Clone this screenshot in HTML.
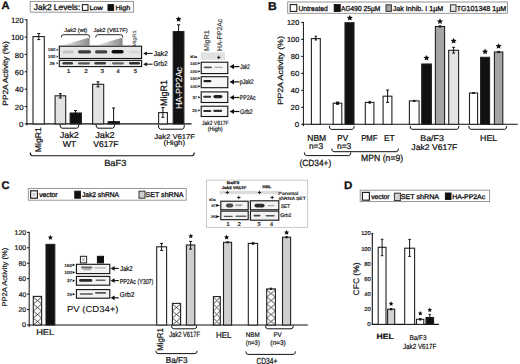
<!DOCTYPE html><html><head><meta charset="utf-8"><title>Figure</title><style>html,body{margin:0;padding:0;background:#fff;width:520px;height:364px;overflow:hidden}svg text{font-family:"Liberation Sans",sans-serif;text-rendering:geometricPrecision}</style></head><body><svg width="520" height="364" viewBox="0 0 520 364" style="display:block;font-family:&quot;Liberation Sans&quot;,sans-serif;text-rendering:geometricPrecision"><defs><filter id="bl" x="-30%" y="-100%" width="160%" height="300%"><feGaussianBlur stdDeviation="0.55"/></filter><linearGradient id="wedge" x1="0" x2="1" y1="0" y2="0"><stop offset="0" stop-color="#f4f4f4"/><stop offset="1" stop-color="#8a8a8a"/></linearGradient><pattern id="h1" patternUnits="userSpaceOnUse" x="32.4" y="192.8" width="3" height="3.6"><path d="M0 0L3 3.6M3 0L0 3.6" stroke="#555" stroke-width="0.5"/></pattern><pattern id="h2" patternUnits="userSpaceOnUse" x="33.3" y="325" width="8.3" height="7"><path d="M0 0L8.3 7M8.3 0L0 7" stroke="#333" stroke-width="0.85"/></pattern><pattern id="h3" patternUnits="userSpaceOnUse" x="172.4" y="325" width="8.2" height="7"><path d="M0 0L8.2 7M8.2 0L0 7" stroke="#333" stroke-width="0.85"/></pattern><pattern id="h4" patternUnits="userSpaceOnUse" x="213.4" y="325" width="6.9" height="7"><path d="M0 0L6.9 7M6.9 0L0 7" stroke="#333" stroke-width="0.85"/></pattern><pattern id="h5" patternUnits="userSpaceOnUse" x="266.7" y="325" width="8.7" height="7"><path d="M0 0L8.7 7M8.7 0L0 7" stroke="#333" stroke-width="0.85"/></pattern><pattern id="h6" patternUnits="userSpaceOnUse" x="82" y="257.9" width="3" height="3.4"><path d="M0 0L3 3.4M3 0L0 3.4" stroke="#555" stroke-width="0.5"/></pattern></defs><rect width="520" height="364" fill="#fff"/><text x="1.62" y="9.4" font-size="10.8" textLength="8.08" lengthAdjust="spacingAndGlyphs" font-weight="bold" fill="#111" stroke="#111" stroke-width="0.3">A</text>
<rect x="30.2" y="1.4" width="103.2" height="10.8" fill="#fff" stroke="#8a8a8a" stroke-width="0.9"/>
<text x="33.87" y="9.6" font-size="8.3" textLength="46.51" lengthAdjust="spacingAndGlyphs" fill="#111" stroke="#111" stroke-width="0.3">Jak2 Levels:</text>
<rect x="82.4" y="4.6" width="5.6" height="5.8" fill="#fff" stroke="#222" stroke-width="1.1"/>
<text x="89.42" y="9.5" font-size="6.4" textLength="13.38" lengthAdjust="spacingAndGlyphs" fill="#111" stroke="#111" stroke-width="0.3">Low</text>
<rect x="108" y="4.6" width="5.6" height="5.8" fill="#111" stroke="#111" stroke-width="1"/>
<text x="115.43" y="9.5" font-size="6.5" textLength="14.75" lengthAdjust="spacingAndGlyphs" fill="#111" stroke="#111" stroke-width="0.3">High</text>
<line x1="26.9" y1="19.24" x2="26.9" y2="125.4" stroke="#111" stroke-width="1"/>
<line x1="24.7" y1="123.9" x2="26.9" y2="123.9" stroke="#111" stroke-width="1"/>
<text x="19.08" y="127" font-size="7.5" textLength="4.4" lengthAdjust="spacingAndGlyphs" fill="#111" stroke="#111" stroke-width="0.21">0</text>
<line x1="24.7" y1="106.54" x2="26.9" y2="106.54" stroke="#111" stroke-width="1"/>
<text x="14.81" y="109.64" font-size="7.5" textLength="8.68" lengthAdjust="spacingAndGlyphs" fill="#111" stroke="#111" stroke-width="0.21">20</text>
<line x1="24.7" y1="89.18" x2="26.9" y2="89.18" stroke="#111" stroke-width="1"/>
<text x="15.05" y="92.28" font-size="7.5" textLength="8.43" lengthAdjust="spacingAndGlyphs" fill="#111" stroke="#111" stroke-width="0.21">40</text>
<line x1="24.7" y1="71.82" x2="26.9" y2="71.82" stroke="#111" stroke-width="1"/>
<text x="14.81" y="74.92" font-size="7.5" textLength="8.68" lengthAdjust="spacingAndGlyphs" fill="#111" stroke="#111" stroke-width="0.21">60</text>
<line x1="24.7" y1="54.46" x2="26.9" y2="54.46" stroke="#111" stroke-width="1"/>
<text x="14.85" y="57.56" font-size="7.5" textLength="8.64" lengthAdjust="spacingAndGlyphs" fill="#111" stroke="#111" stroke-width="0.21">80</text>
<line x1="24.7" y1="37.1" x2="26.9" y2="37.1" stroke="#111" stroke-width="1"/>
<text x="11.25" y="40.2" font-size="7.5" textLength="12.23" lengthAdjust="spacingAndGlyphs" fill="#111" stroke="#111" stroke-width="0.21">100</text>
<line x1="24.7" y1="19.74" x2="26.9" y2="19.74" stroke="#111" stroke-width="1"/>
<text x="11.25" y="22.84" font-size="7.5" textLength="12.23" lengthAdjust="spacingAndGlyphs" fill="#111" stroke="#111" stroke-width="0.21">120</text>
<text transform="translate(7.6,105.67) rotate(-90)" x="0" y="0" font-size="7.6" textLength="64.41" lengthAdjust="spacingAndGlyphs" fill="#111" stroke="#111" stroke-width="0.21">PP2A Activity (%)</text>
<line x1="26.4" y1="123.9" x2="191.6" y2="123.9" stroke="#111" stroke-width="1.1"/>
<rect x="33" y="36.6" width="11.3" height="87.3" fill="#fff"/>
<rect x="33" y="36.6" width="11.3" height="87.3" fill="none" stroke="#222" stroke-width="1.1"/>
<line x1="38.8" y1="33.5" x2="38.8" y2="39.6" stroke="#111" stroke-width="1"/>
<line x1="37.3" y1="33.5" x2="40.3" y2="33.5" stroke="#111" stroke-width="1"/>
<line x1="37.3" y1="39.6" x2="40.3" y2="39.6" stroke="#111" stroke-width="1"/>
<rect x="55.1" y="95.8" width="10.6" height="28.1" fill="#e2e2e2"/>
<rect x="55.1" y="95.8" width="10.6" height="28.1" fill="none" stroke="#222" stroke-width="1.1"/>
<line x1="60.3" y1="93.7" x2="60.3" y2="98" stroke="#111" stroke-width="1"/>
<line x1="58.8" y1="93.7" x2="61.8" y2="93.7" stroke="#111" stroke-width="1"/>
<line x1="58.8" y1="98" x2="61.8" y2="98" stroke="#111" stroke-width="1"/>
<rect x="70.1" y="113" width="11.3" height="10.9" fill="#111"/>
<rect x="70.1" y="113" width="11.3" height="10.9" fill="none" stroke="#222" stroke-width="1.1"/>
<line x1="75.5" y1="110.6" x2="75.5" y2="114.5" stroke="#111" stroke-width="1"/>
<line x1="74" y1="110.6" x2="77" y2="110.6" stroke="#111" stroke-width="1"/>
<line x1="74" y1="114.5" x2="77" y2="114.5" stroke="#111" stroke-width="1"/>
<rect x="92.6" y="84.3" width="11.1" height="39.6" fill="#e2e2e2"/>
<rect x="92.6" y="84.3" width="11.1" height="39.6" fill="none" stroke="#222" stroke-width="1.1"/>
<line x1="98" y1="81.8" x2="98" y2="86.8" stroke="#111" stroke-width="1"/>
<line x1="96.5" y1="81.8" x2="99.5" y2="81.8" stroke="#111" stroke-width="1"/>
<line x1="96.5" y1="86.8" x2="99.5" y2="86.8" stroke="#111" stroke-width="1"/>
<rect x="108.1" y="121.7" width="11.3" height="2.2" fill="#111"/>
<rect x="108.1" y="121.7" width="11.3" height="2.2" fill="none" stroke="#222" stroke-width="1.1"/>
<line x1="113.6" y1="108" x2="113.6" y2="122" stroke="#111" stroke-width="1"/>
<line x1="112.1" y1="108" x2="115.1" y2="108" stroke="#111" stroke-width="1"/>
<line x1="112.1" y1="122" x2="115.1" y2="122" stroke="#111" stroke-width="1"/>
<rect x="158.6" y="112.6" width="8.8" height="11.3" fill="#fff"/>
<rect x="158.6" y="112.6" width="8.8" height="11.3" fill="none" stroke="#222" stroke-width="1.1"/>
<line x1="162.9" y1="107.6" x2="162.9" y2="117.3" stroke="#111" stroke-width="1"/>
<line x1="161.4" y1="107.6" x2="164.4" y2="107.6" stroke="#111" stroke-width="1"/>
<line x1="161.4" y1="117.3" x2="164.4" y2="117.3" stroke="#111" stroke-width="1"/>
<rect x="173.2" y="31.6" width="10.7" height="92.3" fill="#111"/>
<rect x="173.2" y="31.6" width="10.7" height="92.3" fill="none" stroke="#222" stroke-width="1.1"/>
<line x1="178.6" y1="24.8" x2="178.6" y2="31.6" stroke="#111" stroke-width="1"/>
<line x1="177" y1="24.8" x2="180.2" y2="24.8" stroke="#111" stroke-width="1"/>
<line x1="177" y1="31.6" x2="180.2" y2="31.6" stroke="#111" stroke-width="1"/>
<polygon points="178.6,16.2 179.48,17.99 181.45,18.27 180.03,19.66 180.36,21.63 178.6,20.7 176.84,21.63 177.17,19.66 175.75,18.27 177.72,17.99" fill="#111"/>
<text transform="translate(182.3,109.11) rotate(-90)" x="0" y="0" font-size="9" textLength="42.12" lengthAdjust="spacingAndGlyphs" fill="#fff" stroke="#fff" stroke-width="0.05">HA-PP2Ac</text>
<text transform="translate(167.2,105.91) rotate(-90)" x="0" y="0" font-size="9.4" textLength="25.81" lengthAdjust="spacingAndGlyphs" fill="#111" stroke="#111" stroke-width="0.26">MigR1</text>
<path d="M60 124.5Q60 128.2 62 128.2L76.9 128.2Q78.9 128.2 78.9 124.5" stroke="#111" stroke-width="1" fill="none"/>
<path d="M96 124.5Q96 128.2 98 128.2L112.6 128.2Q114.6 128.2 114.6 124.5" stroke="#111" stroke-width="1" fill="none"/>
<path d="M158.4 125.1Q158.4 129.2 160.4 129.2L182.4 129.2Q184.4 129.2 184.4 125.1" stroke="#111" stroke-width="1" fill="none"/>
<path d="M30.2 152.6Q30.2 155.8 32.4 155.8L192.2 155.8Q194.2 155.8 194.2 152.6" stroke="#111" stroke-width="1.1" fill="none"/>
<text transform="translate(41,152.19) rotate(-90)" x="0" y="0" font-size="8.3" textLength="24.87" lengthAdjust="spacingAndGlyphs" fill="#111" stroke="#111" stroke-width="0.23">MigR1</text>
<text x="59.76" y="138" font-size="8.5" textLength="19.11" lengthAdjust="spacingAndGlyphs" fill="#111" stroke="#111" stroke-width="0.24">Jak2</text>
<text x="62.66" y="147.3" font-size="8.5" textLength="13.51" lengthAdjust="spacingAndGlyphs" fill="#111" stroke="#111" stroke-width="0.24">WT</text>
<text x="95.26" y="138" font-size="8.5" textLength="19.42" lengthAdjust="spacingAndGlyphs" fill="#111" stroke="#111" stroke-width="0.24">Jak2</text>
<text x="93.36" y="147.3" font-size="8.5" textLength="25.2" lengthAdjust="spacingAndGlyphs" fill="#111" stroke="#111" stroke-width="0.24">V617F</text>
<text x="154.29" y="139.3" font-size="7" textLength="40.63" lengthAdjust="spacingAndGlyphs" fill="#111" stroke="#111" stroke-width="0.19">Jak2 V617F</text>
<text x="163.52" y="145.3" font-size="7" textLength="21.57" lengthAdjust="spacingAndGlyphs" fill="#111" stroke="#111" stroke-width="0.19">(High)</text>
<text x="104.16" y="166.4" font-size="8.8" textLength="22.22" lengthAdjust="spacingAndGlyphs" fill="#111" stroke="#111" stroke-width="0.24">BaF3</text>
<text x="64.21" y="31.6" font-size="5.6" textLength="23.03" lengthAdjust="spacingAndGlyphs" fill="#111" stroke="#111" stroke-width="0.18">Jak2 (wt)</text>
<text x="93.41" y="31.6" font-size="5.6" textLength="34.14" lengthAdjust="spacingAndGlyphs" fill="#111" stroke="#111" stroke-width="0.18">Jak2 (V617F)</text>
<path d="M61.3 37.4Q61.3 34.7 63.3 34.7L87.7 34.7Q89.7 34.7 89.7 37.4" stroke="#111" stroke-width="0.9" fill="none"/>
<path d="M95.7 37.4Q95.7 34.7 97.7 34.7L120.8 34.7Q122.8 34.7 122.8 37.4" stroke="#111" stroke-width="0.9" fill="none"/>
<polygon points="61.6,45.6 89.6,37.6 89.6,45.6" fill="url(#wedge)"/>
<polygon points="95.7,45.6 122.6,37.6 122.6,45.6" fill="url(#wedge)"/>
<text transform="translate(135.8,46.75) rotate(-90)" x="0" y="0" font-size="4.8" textLength="16.41" lengthAdjust="spacingAndGlyphs" fill="#666" stroke="#666" stroke-width="0.18">MigR1</text>
<rect x="59.3" y="46.2" width="82.3" height="12.3" fill="#e6e6e6" stroke="#111" stroke-width="1.1"/>
<rect x="62.5" y="50.4" width="11.5" height="3.2" rx="1.6" fill="#c4c4c4" filter="url(#bl)"/>
<rect x="78" y="50.2" width="13" height="3.2" rx="1.6" fill="#3a3a3a" filter="url(#bl)"/>
<rect x="95" y="50.2" width="12.4" height="3.2" rx="1.6" fill="#444" filter="url(#bl)"/>
<rect x="111.5" y="50" width="12.2" height="3.6" rx="1.8" fill="#111" filter="url(#bl)"/>
<rect x="128.6" y="50.5" width="12.4" height="3" rx="1.5" fill="#d8d8d8" filter="url(#bl)"/>
<rect x="59.3" y="60.4" width="82.3" height="6.2" fill="#e8e8e8" stroke="#111" stroke-width="1.1"/>
<rect x="62.4" y="62.1" width="10.6" height="2.4" rx="1.2" fill="#3a3a3a" filter="url(#bl)"/>
<rect x="78" y="62.2" width="12" height="2.2" rx="1.1" fill="#555" filter="url(#bl)"/>
<rect x="94.4" y="62.1" width="11.6" height="2.4" rx="1.2" fill="#3a3a3a" filter="url(#bl)"/>
<rect x="112" y="62.2" width="12" height="2.2" rx="1.1" fill="#666" filter="url(#bl)"/>
<rect x="129" y="62.1" width="11" height="2.4" rx="1.2" fill="#333" filter="url(#bl)"/>
<text x="47.66" y="51.2" font-size="4.4" textLength="7.51" lengthAdjust="spacingAndGlyphs" fill="#111" stroke="#111" stroke-width="0.18">150</text>
<polygon points="58.2,49.7 56.64,48.5 56.64,50.9" fill="#111"/>
<text x="47.66" y="58.2" font-size="4.4" textLength="7.51" lengthAdjust="spacingAndGlyphs" fill="#111" stroke="#111" stroke-width="0.18">100</text>
<polygon points="58.2,56.6 56.64,55.4 56.64,57.8" fill="#111"/>
<text x="49.46" y="65.2" font-size="4.4" textLength="5.34" lengthAdjust="spacingAndGlyphs" fill="#111" stroke="#111" stroke-width="0.18">25</text>
<polygon points="58.2,63.2 56.64,62 56.64,64.4" fill="#111"/>
<text x="66.85" y="72.8" font-size="5.6" textLength="3.71" lengthAdjust="spacingAndGlyphs" fill="#111" stroke="#111" stroke-width="0.18">1</text>
<text x="84.33" y="72.8" font-size="5.6" textLength="3.54" lengthAdjust="spacingAndGlyphs" fill="#111" stroke="#111" stroke-width="0.18">2</text>
<text x="100.51" y="72.8" font-size="5.6" textLength="3.4" lengthAdjust="spacingAndGlyphs" fill="#111" stroke="#111" stroke-width="0.18">3</text>
<text x="116.54" y="72.8" font-size="5.6" textLength="3.19" lengthAdjust="spacingAndGlyphs" fill="#111" stroke="#111" stroke-width="0.18">4</text>
<text x="133.71" y="72.8" font-size="5.6" textLength="3.4" lengthAdjust="spacingAndGlyphs" fill="#111" stroke="#111" stroke-width="0.18">5</text>
<line x1="146.08" y1="53.4" x2="152.6" y2="53.4" stroke="#111" stroke-width="1"/>
<polygon points="143.2,53.4 146.8,51.4 146.8,55.4" fill="#111"/>
<text x="153.7" y="55.7" font-size="7" textLength="14.36" lengthAdjust="spacingAndGlyphs" fill="#111" stroke="#111" stroke-width="0.19">Jak2</text>
<line x1="146.08" y1="64.2" x2="152.6" y2="64.2" stroke="#111" stroke-width="1"/>
<polygon points="143.2,64.2 146.8,62.2 146.8,66.2" fill="#111"/>
<text x="153.49" y="66.4" font-size="7" textLength="13.95" lengthAdjust="spacingAndGlyphs" fill="#111" stroke="#111" stroke-width="0.19">Grb2</text>
<text transform="translate(209.4,50.97) rotate(-90)" x="0" y="0" font-size="7" textLength="20.69" lengthAdjust="spacingAndGlyphs" fill="#444" stroke="#444" stroke-width="0.19">MigR1</text>
<text transform="translate(221.8,50.94) rotate(-90)" x="0" y="0" font-size="7" textLength="32.1" lengthAdjust="spacingAndGlyphs" fill="#444" stroke="#444" stroke-width="0.19">HA-PP2Ac</text>
<rect x="200.6" y="52.4" width="24.4" height="7.6" fill="#e2e2e2"/>
<line x1="217.05" y1="57.4" x2="220.45" y2="57.4" stroke="#111" stroke-width="0.9"/>
<line x1="218.75" y1="55.7" x2="218.75" y2="59.1" stroke="#111" stroke-width="0.9"/>
<text x="190.15" y="58.2" font-size="3.6" textLength="6.86" lengthAdjust="spacingAndGlyphs" fill="#111" stroke="#111" stroke-width="0.18">kDa</text>
<rect x="201.2" y="62.2" width="26.6" height="11.4" fill="#f7f7f7" stroke="#111" stroke-width="1.1"/>
<rect x="201.2" y="76.7" width="26.6" height="11" fill="#f7f7f7" stroke="#111" stroke-width="1.1"/>
<rect x="201.2" y="91.9" width="26.6" height="10.6" fill="#f7f7f7" stroke="#111" stroke-width="1.1"/>
<rect x="201.2" y="106.2" width="26.6" height="10.3" fill="#f7f7f7" stroke="#111" stroke-width="1.1"/>
<text x="190.07" y="64.7" font-size="4" textLength="7.4" lengthAdjust="spacingAndGlyphs" fill="#111" stroke="#111" stroke-width="0.18">150</text>
<polygon points="200.4,63.3 198.24,62.1 198.24,64.5" fill="#111"/>
<text x="190.07" y="72.8" font-size="4" textLength="7.4" lengthAdjust="spacingAndGlyphs" fill="#111" stroke="#111" stroke-width="0.18">100</text>
<polygon points="200.4,71.4 198.24,70.2 198.24,72.6" fill="#111"/>
<text x="190.07" y="79.6" font-size="4" textLength="7.4" lengthAdjust="spacingAndGlyphs" fill="#111" stroke="#111" stroke-width="0.18">150</text>
<polygon points="200.4,78.2 198.24,77 198.24,79.4" fill="#111"/>
<text x="190.07" y="87.7" font-size="4" textLength="7.4" lengthAdjust="spacingAndGlyphs" fill="#111" stroke="#111" stroke-width="0.18">100</text>
<polygon points="200.4,86.3 198.24,85.1 198.24,87.5" fill="#111"/>
<text x="192.43" y="98.6" font-size="4" textLength="4.8" lengthAdjust="spacingAndGlyphs" fill="#111" stroke="#111" stroke-width="0.18">37</text>
<polygon points="200.4,97.2 198.24,96 198.24,98.4" fill="#111"/>
<text x="192.38" y="111.8" font-size="4" textLength="4.8" lengthAdjust="spacingAndGlyphs" fill="#111" stroke="#111" stroke-width="0.18">25</text>
<polygon points="200.4,110.4 198.24,109.2 198.24,111.6" fill="#111"/>
<rect x="203.8" y="66.6" width="8.2" height="1.6" rx="0.8" fill="#555" filter="url(#bl)"/>
<rect x="214.4" y="66.7" width="8.6" height="1.4" rx="0.7" fill="#aaa" filter="url(#bl)"/>
<rect x="203.4" y="80.1" width="8" height="2.2" rx="1.1" fill="#222" filter="url(#bl)"/>
<rect x="203.2" y="95.8" width="8" height="2" rx="1" fill="#333" filter="url(#bl)"/>
<rect x="213.4" y="94.9" width="9" height="3.4" rx="1.7" fill="#222" filter="url(#bl)"/>
<rect x="203.2" y="110" width="8.2" height="2" rx="1" fill="#333" filter="url(#bl)"/>
<rect x="213.2" y="109.7" width="9" height="2.2" rx="1.1" fill="#333" filter="url(#bl)"/>
<line x1="233.12" y1="66.6" x2="239.4" y2="66.6" stroke="#111" stroke-width="1.2"/>
<polygon points="229.6,66.6 234,64 234,69.2" fill="#111"/>
<text x="240.13" y="69.1" font-size="6.8" textLength="9.81" lengthAdjust="spacingAndGlyphs" fill="#111" stroke="#111" stroke-width="0.19">Jak2</text>
<line x1="233.12" y1="81.9" x2="239.4" y2="81.9" stroke="#111" stroke-width="1.2"/>
<polygon points="229.6,81.9 234,79.3 234,84.5" fill="#111"/>
<text x="239.86" y="84.4" font-size="6.8" textLength="13.81" lengthAdjust="spacingAndGlyphs" fill="#111" stroke="#111" stroke-width="0.19">pJak2</text>
<line x1="233.12" y1="97.5" x2="239.4" y2="97.5" stroke="#111" stroke-width="1.2"/>
<polygon points="229.6,97.5 234,94.9 234,100.1" fill="#111"/>
<text x="239.79" y="100" font-size="6.8" textLength="15.86" lengthAdjust="spacingAndGlyphs" fill="#111" stroke="#111" stroke-width="0.19">PP2Ac</text>
<line x1="233.12" y1="111.5" x2="239.4" y2="111.5" stroke="#111" stroke-width="1.2"/>
<polygon points="229.6,111.5 234,108.9 234,114.1" fill="#111"/>
<text x="239.91" y="114" font-size="6.8" textLength="12.9" lengthAdjust="spacingAndGlyphs" fill="#111" stroke="#111" stroke-width="0.19">Grb2</text>
<text x="201.93" y="125.2" font-size="6.2" textLength="26.58" lengthAdjust="spacingAndGlyphs" fill="#111" stroke="#111" stroke-width="0.18">Jak2 V617F</text>
<text x="207.67" y="131" font-size="6.2" textLength="14.87" lengthAdjust="spacingAndGlyphs" fill="#111" stroke="#111" stroke-width="0.18">(High)</text>
<text x="268.01" y="9.6" font-size="11.3" textLength="8.76" lengthAdjust="spacingAndGlyphs" font-weight="bold" fill="#111" stroke="#111" stroke-width="0.31">B</text>
<rect x="287.7" y="2" width="219.7" height="11.3" fill="#fff" stroke="#8a8a8a" stroke-width="0.9"/>
<rect x="290.2" y="4.6" width="6.6" height="6.8" fill="#fff" stroke="#222" stroke-width="1.1"/>
<text x="298.4" y="10.8" font-size="7.2" textLength="29.45" lengthAdjust="spacingAndGlyphs" fill="#111" stroke="#111" stroke-width="0.3">Untreated</text>
<rect x="334.2" y="4.6" width="6" height="6.8" fill="#111" stroke="#111" stroke-width="1"/>
<text x="341" y="10.9" font-size="7.2" textLength="39.25" lengthAdjust="spacingAndGlyphs" fill="#111" stroke="#111" stroke-width="0.3">AG490 25µM</text>
<rect x="386" y="4.8" width="5.4" height="6.6" fill="#a4a4a4" stroke="#333" stroke-width="1"/>
<text x="392.69" y="10.9" font-size="7.2" textLength="50.51" lengthAdjust="spacingAndGlyphs" fill="#111" stroke="#111" stroke-width="0.3">Jak Inhib. I 1µM</text>
<rect x="450.4" y="4.8" width="5.6" height="6.6" fill="#e4e4e4" stroke="#333" stroke-width="1"/>
<text x="456.66" y="10.9" font-size="7.2" textLength="49.54" lengthAdjust="spacingAndGlyphs" fill="#111" stroke="#111" stroke-width="0.3">TG101348 1µM</text>
<line x1="303.4" y1="21.92" x2="303.4" y2="126.1" stroke="#111" stroke-width="1"/>
<line x1="301.2" y1="124.3" x2="303.4" y2="124.3" stroke="#111" stroke-width="1"/>
<text x="294.88" y="126.93" font-size="7.3" textLength="4.4" lengthAdjust="spacingAndGlyphs" fill="#111" stroke="#111" stroke-width="0.2">0</text>
<line x1="301.2" y1="107.32" x2="303.4" y2="107.32" stroke="#111" stroke-width="1"/>
<text x="290.61" y="109.95" font-size="7.3" textLength="8.68" lengthAdjust="spacingAndGlyphs" fill="#111" stroke="#111" stroke-width="0.2">20</text>
<line x1="301.2" y1="90.34" x2="303.4" y2="90.34" stroke="#111" stroke-width="1"/>
<text x="290.85" y="92.97" font-size="7.3" textLength="8.43" lengthAdjust="spacingAndGlyphs" fill="#111" stroke="#111" stroke-width="0.2">40</text>
<line x1="301.2" y1="73.36" x2="303.4" y2="73.36" stroke="#111" stroke-width="1"/>
<text x="290.61" y="75.99" font-size="7.3" textLength="8.68" lengthAdjust="spacingAndGlyphs" fill="#111" stroke="#111" stroke-width="0.2">60</text>
<line x1="301.2" y1="56.38" x2="303.4" y2="56.38" stroke="#111" stroke-width="1"/>
<text x="290.65" y="59.01" font-size="7.3" textLength="8.64" lengthAdjust="spacingAndGlyphs" fill="#111" stroke="#111" stroke-width="0.2">80</text>
<line x1="301.2" y1="39.4" x2="303.4" y2="39.4" stroke="#111" stroke-width="1"/>
<text x="287.05" y="42.03" font-size="7.3" textLength="12.23" lengthAdjust="spacingAndGlyphs" fill="#111" stroke="#111" stroke-width="0.2">100</text>
<line x1="301.2" y1="22.42" x2="303.4" y2="22.42" stroke="#111" stroke-width="1"/>
<text x="287.05" y="25.05" font-size="7.3" textLength="12.23" lengthAdjust="spacingAndGlyphs" fill="#111" stroke="#111" stroke-width="0.2">120</text>
<text transform="translate(283.2,104.71) rotate(-90)" x="0" y="0" font-size="7.6" textLength="68.69" lengthAdjust="spacingAndGlyphs" fill="#111" stroke="#111" stroke-width="0.21">PP2A Activity (%)</text>
<line x1="302.9" y1="124.3" x2="517.8" y2="124.3" stroke="#111" stroke-width="1.1"/>
<rect x="311.4" y="38.6" width="8.9" height="85.7" fill="#fff"/>
<rect x="311.4" y="38.6" width="8.9" height="85.7" fill="none" stroke="#222" stroke-width="1.1"/>
<line x1="315.8" y1="36.2" x2="315.8" y2="40" stroke="#111" stroke-width="1"/>
<line x1="314.6" y1="36.2" x2="317" y2="36.2" stroke="#111" stroke-width="1"/>
<line x1="314.6" y1="40" x2="317" y2="40" stroke="#111" stroke-width="1"/>
<rect x="333.2" y="103.2" width="8.6" height="21.1" fill="#fff"/>
<rect x="333.2" y="103.2" width="8.6" height="21.1" fill="none" stroke="#222" stroke-width="1.1"/>
<line x1="337.5" y1="102.4" x2="337.5" y2="104" stroke="#111" stroke-width="1.6"/>
<line x1="335.9" y1="102.4" x2="339.1" y2="102.4" stroke="#111" stroke-width="1.6"/>
<line x1="335.9" y1="104" x2="339.1" y2="104" stroke="#111" stroke-width="1.6"/>
<rect x="345" y="22.7" width="9" height="101.6" fill="#111"/>
<rect x="345" y="22.7" width="9" height="101.6" fill="none" stroke="#222" stroke-width="1.1"/>
<polygon points="349.8,14.9 350.71,16.75 352.75,17.04 351.27,18.48 351.62,20.51 349.8,19.55 347.98,20.51 348.33,18.48 346.85,17.04 348.89,16.75" fill="#111"/>
<rect x="365.3" y="102.4" width="8.6" height="21.9" fill="#fff"/>
<rect x="365.3" y="102.4" width="8.6" height="21.9" fill="none" stroke="#222" stroke-width="1.1"/>
<line x1="369.7" y1="101.4" x2="369.7" y2="103.2" stroke="#111" stroke-width="1"/>
<line x1="368.5" y1="101.4" x2="370.9" y2="101.4" stroke="#111" stroke-width="1"/>
<line x1="368.5" y1="103.2" x2="370.9" y2="103.2" stroke="#111" stroke-width="1"/>
<rect x="383.1" y="96.2" width="8.8" height="28.1" fill="#fff"/>
<rect x="383.1" y="96.2" width="8.8" height="28.1" fill="none" stroke="#222" stroke-width="1.1"/>
<line x1="387.6" y1="90" x2="387.6" y2="102.4" stroke="#111" stroke-width="1"/>
<line x1="386.1" y1="90" x2="389.1" y2="90" stroke="#111" stroke-width="1"/>
<line x1="386.1" y1="102.4" x2="389.1" y2="102.4" stroke="#111" stroke-width="1"/>
<rect x="409.4" y="100.9" width="9.7" height="23.4" fill="#fff"/>
<rect x="409.4" y="100.9" width="9.7" height="23.4" fill="none" stroke="#222" stroke-width="1.1"/>
<line x1="414.2" y1="100.4" x2="414.2" y2="101.4" stroke="#111" stroke-width="1"/>
<line x1="413" y1="100.4" x2="415.4" y2="100.4" stroke="#111" stroke-width="1"/>
<line x1="413" y1="101.4" x2="415.4" y2="101.4" stroke="#111" stroke-width="1"/>
<rect x="421.7" y="64" width="9.7" height="60.3" fill="#111"/>
<rect x="421.7" y="64" width="9.7" height="60.3" fill="none" stroke="#222" stroke-width="1.1"/>
<polygon points="426.5,54.9 427.41,56.75 429.45,57.04 427.97,58.48 428.32,60.51 426.5,59.55 424.68,60.51 425.03,58.48 423.55,57.04 425.59,56.75" fill="#111"/>
<rect x="435.4" y="26.5" width="9.2" height="97.8" fill="#a4a4a4"/>
<rect x="435.4" y="26.5" width="9.2" height="97.8" fill="none" stroke="#222" stroke-width="1.1"/>
<line x1="440" y1="25.8" x2="440" y2="27" stroke="#111" stroke-width="1"/>
<line x1="438.8" y1="25.8" x2="441.2" y2="25.8" stroke="#111" stroke-width="1"/>
<line x1="438.8" y1="27" x2="441.2" y2="27" stroke="#111" stroke-width="1"/>
<polygon points="440,18.4 440.91,20.25 442.95,20.54 441.47,21.98 441.82,24.01 440,23.05 438.18,24.01 438.53,21.98 437.05,20.54 439.09,20.25" fill="#111"/>
<rect x="448.7" y="50.3" width="9.9" height="74" fill="#e4e4e4"/>
<rect x="448.7" y="50.3" width="9.9" height="74" fill="none" stroke="#222" stroke-width="1.1"/>
<line x1="453.6" y1="47.3" x2="453.6" y2="53.1" stroke="#111" stroke-width="1"/>
<line x1="452.1" y1="47.3" x2="455.1" y2="47.3" stroke="#111" stroke-width="1"/>
<line x1="452.1" y1="53.1" x2="455.1" y2="53.1" stroke="#111" stroke-width="1"/>
<polygon points="453.6,37.9 454.51,39.75 456.55,40.04 455.07,41.48 455.42,43.51 453.6,42.55 451.78,43.51 452.13,41.48 450.65,40.04 452.69,39.75" fill="#111"/>
<rect x="469.5" y="93" width="8.1" height="31.3" fill="#fff"/>
<rect x="469.5" y="93" width="8.1" height="31.3" fill="none" stroke="#222" stroke-width="1.1"/>
<line x1="473.5" y1="92.5" x2="473.5" y2="93.5" stroke="#111" stroke-width="1"/>
<line x1="472.3" y1="92.5" x2="474.7" y2="92.5" stroke="#111" stroke-width="1"/>
<line x1="472.3" y1="93.5" x2="474.7" y2="93.5" stroke="#111" stroke-width="1"/>
<rect x="480.6" y="57.3" width="9" height="67" fill="#111"/>
<rect x="480.6" y="57.3" width="9" height="67" fill="none" stroke="#222" stroke-width="1.1"/>
<polygon points="485.1,48.6 486.01,50.45 488.05,50.74 486.57,52.18 486.92,54.21 485.1,53.25 483.28,54.21 483.63,52.18 482.15,50.74 484.19,50.45" fill="#111"/>
<rect x="494.4" y="52" width="8.4" height="72.3" fill="#a4a4a4"/>
<rect x="494.4" y="52" width="8.4" height="72.3" fill="none" stroke="#222" stroke-width="1.1"/>
<line x1="498.6" y1="51.4" x2="498.6" y2="52.6" stroke="#111" stroke-width="1"/>
<line x1="497.4" y1="51.4" x2="499.8" y2="51.4" stroke="#111" stroke-width="1"/>
<line x1="497.4" y1="52.6" x2="499.8" y2="52.6" stroke="#111" stroke-width="1"/>
<polygon points="498.6,43.2 499.51,45.05 501.55,45.34 500.07,46.78 500.42,48.81 498.6,47.85 496.78,48.81 497.13,46.78 495.65,45.34 497.69,45.05" fill="#111"/>
<path d="M329.4 125.9Q329.4 129.4 331.4 129.4L352.2 129.4Q354.2 129.4 354.2 125.9" stroke="#111" stroke-width="1" fill="none"/>
<path d="M410.1 125.9Q410.1 129.3 412.1 129.3L456.9 129.3Q458.9 129.3 458.9 125.9" stroke="#111" stroke-width="1" fill="none"/>
<path d="M468.8 125.9Q468.8 129.3 470.8 129.3L504.7 129.3Q506.7 129.3 506.7 125.9" stroke="#111" stroke-width="1" fill="none"/>
<text x="307.32" y="140.9" font-size="8.6" textLength="18.88" lengthAdjust="spacingAndGlyphs" fill="#111" stroke="#111" stroke-width="0.24">NBM</text>
<text x="308.96" y="148.8" font-size="8.6" textLength="14.19" lengthAdjust="spacingAndGlyphs" fill="#111" stroke="#111" stroke-width="0.24">n=3</text>
<text x="337.36" y="140.9" font-size="8.6" textLength="10.72" lengthAdjust="spacingAndGlyphs" fill="#111" stroke="#111" stroke-width="0.24">PV</text>
<text x="336.95" y="148.8" font-size="8.6" textLength="14.4" lengthAdjust="spacingAndGlyphs" fill="#111" stroke="#111" stroke-width="0.24">n=3</text>
<text x="361.18" y="140.9" font-size="8.6" textLength="16.34" lengthAdjust="spacingAndGlyphs" fill="#111" stroke="#111" stroke-width="0.24">PMF</text>
<text x="383.92" y="140.9" font-size="8.6" textLength="10.88" lengthAdjust="spacingAndGlyphs" fill="#111" stroke="#111" stroke-width="0.24">ET</text>
<text x="420.29" y="140.5" font-size="8.4" textLength="23.59" lengthAdjust="spacingAndGlyphs" fill="#111" stroke="#111" stroke-width="0.23">Ba/F3</text>
<text x="411.37" y="149.6" font-size="8.2" textLength="45.99" lengthAdjust="spacingAndGlyphs" fill="#111" stroke="#111" stroke-width="0.23">Jak2 V617F</text>
<text x="480.09" y="140.5" font-size="8.4" textLength="17.17" lengthAdjust="spacingAndGlyphs" fill="#111" stroke="#111" stroke-width="0.23">HEL</text>
<path d="M304.3 152.4Q304.3 155.6 306.4 155.6L348.7 155.6Q350.8 155.6 350.8 152.4" stroke="#111" stroke-width="1" fill="none"/>
<path d="M331.8 148.6Q331.8 151.7 333.9 151.7L396.3 151.7Q398.4 151.7 398.4 148.6" stroke="#111" stroke-width="1" fill="none"/>
<text x="299.5" y="165.6" font-size="9" textLength="31.71" lengthAdjust="spacingAndGlyphs" fill="#111" stroke="#111" stroke-width="0.25">(CD34+)</text>
<text x="361.11" y="161.4" font-size="9" textLength="42.03" lengthAdjust="spacingAndGlyphs" fill="#111" stroke="#111" stroke-width="0.25">MPN (n=9)</text>
<text x="1.45" y="188.7" font-size="11.2" textLength="8.05" lengthAdjust="spacingAndGlyphs" font-weight="bold" fill="#111" stroke="#111" stroke-width="0.31">C</text>
<rect x="28.3" y="188.4" width="157.9" height="11.8" fill="#fff" stroke="#8a8a8a" stroke-width="0.9"/>
<rect x="30.6" y="190.8" width="6.8" height="7.4" fill="#fff" stroke="#222" stroke-width="1.2"/>
<rect x="32.4" y="192.8" width="3" height="3.6" fill="url(#h1)"/>
<text x="39.17" y="196.9" font-size="7" textLength="18.46" lengthAdjust="spacingAndGlyphs" fill="#111" stroke="#111" stroke-width="0.32">vector</text>
<rect x="74.8" y="191.2" width="5.6" height="7" fill="#111" stroke="#111" stroke-width="1"/>
<text x="81.9" y="197.4" font-size="7" textLength="37.12" lengthAdjust="spacingAndGlyphs" fill="#111" stroke="#111" stroke-width="0.3">Jak2 shRNA</text>
<rect x="139" y="191.2" width="6" height="7" fill="#cfcfcf" stroke="#333" stroke-width="1"/>
<text x="145.48" y="197.4" font-size="7" textLength="38.14" lengthAdjust="spacingAndGlyphs" fill="#111" stroke="#111" stroke-width="0.3">SET shRNA</text>
<line x1="29.2" y1="231.86" x2="29.2" y2="327" stroke="#111" stroke-width="1"/>
<line x1="27" y1="325" x2="29.2" y2="325" stroke="#111" stroke-width="1"/>
<text x="22.11" y="327.45" font-size="6.8" textLength="4.06" lengthAdjust="spacingAndGlyphs" fill="#111" stroke="#111" stroke-width="0.19">0</text>
<line x1="27" y1="309.56" x2="29.2" y2="309.56" stroke="#111" stroke-width="1"/>
<text x="18.56" y="312.01" font-size="6.8" textLength="7.6" lengthAdjust="spacingAndGlyphs" fill="#111" stroke="#111" stroke-width="0.19">20</text>
<line x1="27" y1="294.12" x2="29.2" y2="294.12" stroke="#111" stroke-width="1"/>
<text x="18.77" y="296.57" font-size="6.8" textLength="7.38" lengthAdjust="spacingAndGlyphs" fill="#111" stroke="#111" stroke-width="0.19">40</text>
<line x1="27" y1="278.68" x2="29.2" y2="278.68" stroke="#111" stroke-width="1"/>
<text x="18.56" y="281.13" font-size="6.8" textLength="7.6" lengthAdjust="spacingAndGlyphs" fill="#111" stroke="#111" stroke-width="0.19">60</text>
<line x1="27" y1="263.24" x2="29.2" y2="263.24" stroke="#111" stroke-width="1"/>
<text x="18.59" y="265.69" font-size="6.8" textLength="7.56" lengthAdjust="spacingAndGlyphs" fill="#111" stroke="#111" stroke-width="0.19">80</text>
<line x1="27" y1="247.8" x2="29.2" y2="247.8" stroke="#111" stroke-width="1"/>
<text x="14.58" y="250.25" font-size="6.8" textLength="11.59" lengthAdjust="spacingAndGlyphs" fill="#111" stroke="#111" stroke-width="0.19">100</text>
<line x1="27" y1="232.36" x2="29.2" y2="232.36" stroke="#111" stroke-width="1"/>
<text x="14.58" y="234.81" font-size="6.8" textLength="11.59" lengthAdjust="spacingAndGlyphs" fill="#111" stroke="#111" stroke-width="0.19">120</text>
<text transform="translate(6.9,306.61) rotate(-90)" x="0" y="0" font-size="7" textLength="58.9" lengthAdjust="spacingAndGlyphs" fill="#111" stroke="#111" stroke-width="0.19">PP2A Activity (%)</text>
<line x1="28.8" y1="325" x2="307.8" y2="325" stroke="#111" stroke-width="1.1"/>
<rect x="33.3" y="296.4" width="8.3" height="28.6" fill="#fff"/>
<rect x="33.3" y="296.4" width="8.3" height="28.6" fill="url(#h2)"/>
<rect x="33.3" y="296.4" width="8.3" height="28.6" fill="none" stroke="#222" stroke-width="1.1"/>
<rect x="46" y="244.4" width="8.8" height="80.6" fill="#111"/>
<rect x="46" y="244.4" width="8.8" height="80.6" fill="none" stroke="#222" stroke-width="1.1"/>
<polygon points="50.4,235 51.16,236.55 52.87,236.8 51.64,238 51.93,239.7 50.4,238.9 48.87,239.7 49.16,238 47.93,236.8 49.64,236.55" fill="#111"/>
<rect x="156.7" y="246.8" width="9.9" height="78.2" fill="#fff"/>
<rect x="156.7" y="246.8" width="9.9" height="78.2" fill="none" stroke="#222" stroke-width="1.1"/>
<line x1="161.6" y1="243.4" x2="161.6" y2="250.4" stroke="#111" stroke-width="1"/>
<line x1="160.1" y1="243.4" x2="163.1" y2="243.4" stroke="#111" stroke-width="1"/>
<line x1="160.1" y1="250.4" x2="163.1" y2="250.4" stroke="#111" stroke-width="1"/>
<rect x="172.4" y="303.4" width="8.2" height="21.6" fill="#fff"/>
<rect x="172.4" y="303.4" width="8.2" height="21.6" fill="url(#h3)"/>
<rect x="172.4" y="303.4" width="8.2" height="21.6" fill="none" stroke="#222" stroke-width="1.1"/>
<rect x="186.4" y="245" width="8.4" height="80" fill="#cfcfcf"/>
<rect x="186.4" y="245" width="8.4" height="80" fill="none" stroke="#222" stroke-width="1.1"/>
<line x1="190.6" y1="241.4" x2="190.6" y2="249.1" stroke="#111" stroke-width="1"/>
<line x1="189.1" y1="241.4" x2="192.1" y2="241.4" stroke="#111" stroke-width="1"/>
<line x1="189.1" y1="249.1" x2="192.1" y2="249.1" stroke="#111" stroke-width="1"/>
<polygon points="190.8,233.6 191.56,235.15 193.27,235.4 192.04,236.6 192.33,238.3 190.8,237.5 189.27,238.3 189.56,236.6 188.33,235.4 190.04,235.15" fill="#111"/>
<rect x="213.4" y="296.6" width="6.9" height="28.4" fill="#fff"/>
<rect x="213.4" y="296.6" width="6.9" height="28.4" fill="url(#h4)"/>
<rect x="213.4" y="296.6" width="6.9" height="28.4" fill="none" stroke="#222" stroke-width="1.1"/>
<rect x="223.5" y="242.3" width="8.1" height="82.7" fill="#cfcfcf"/>
<rect x="223.5" y="242.3" width="8.1" height="82.7" fill="none" stroke="#222" stroke-width="1.1"/>
<line x1="227.6" y1="241.8" x2="227.6" y2="242.8" stroke="#111" stroke-width="1"/>
<line x1="226.4" y1="241.8" x2="228.8" y2="241.8" stroke="#111" stroke-width="1"/>
<line x1="226.4" y1="242.8" x2="228.8" y2="242.8" stroke="#111" stroke-width="1"/>
<polygon points="226.6,234.8 227.36,236.35 229.07,236.6 227.84,237.8 228.13,239.5 226.6,238.7 225.07,239.5 225.36,237.8 224.13,236.6 225.84,236.35" fill="#111"/>
<rect x="248.3" y="243.4" width="9.3" height="81.6" fill="#fff"/>
<rect x="248.3" y="243.4" width="9.3" height="81.6" fill="none" stroke="#222" stroke-width="1.1"/>
<line x1="253" y1="242.6" x2="253" y2="244.2" stroke="#111" stroke-width="1"/>
<line x1="251.8" y1="242.6" x2="254.2" y2="242.6" stroke="#111" stroke-width="1"/>
<line x1="251.8" y1="244.2" x2="254.2" y2="244.2" stroke="#111" stroke-width="1"/>
<rect x="266.7" y="288.9" width="8.7" height="36.1" fill="#fff"/>
<rect x="266.7" y="288.9" width="8.7" height="36.1" fill="url(#h5)"/>
<rect x="266.7" y="288.9" width="8.7" height="36.1" fill="none" stroke="#222" stroke-width="1.1"/>
<line x1="271" y1="288.2" x2="271" y2="289.4" stroke="#111" stroke-width="1"/>
<line x1="269.8" y1="288.2" x2="272.2" y2="288.2" stroke="#111" stroke-width="1"/>
<line x1="269.8" y1="289.4" x2="272.2" y2="289.4" stroke="#111" stroke-width="1"/>
<rect x="282.5" y="237.2" width="8.1" height="87.8" fill="#cfcfcf"/>
<rect x="282.5" y="237.2" width="8.1" height="87.8" fill="none" stroke="#222" stroke-width="1.1"/>
<line x1="286.6" y1="236.6" x2="286.6" y2="237.8" stroke="#111" stroke-width="1"/>
<line x1="285.4" y1="236.6" x2="287.8" y2="236.6" stroke="#111" stroke-width="1"/>
<line x1="285.4" y1="237.8" x2="287.8" y2="237.8" stroke="#111" stroke-width="1"/>
<polygon points="286.6,230 287.36,231.55 289.07,231.8 287.84,233 288.13,234.7 286.6,233.9 285.07,234.7 285.36,233 284.13,231.8 285.84,231.55" fill="#111"/>
<path d="M171.4 325.5Q171.4 328.8 173.8 328.8L194.4 328.8Q196.8 328.8 196.8 325.5" stroke="#111" stroke-width="1" fill="none"/>
<path d="M265.4 325.5Q265.4 328.8 267.8 328.8L291 328.8Q293.4 328.8 293.4 325.5" stroke="#111" stroke-width="1" fill="none"/>
<text x="36.16" y="334.8" font-size="8.2" textLength="18.02" lengthAdjust="spacingAndGlyphs" fill="#111" stroke="#111" stroke-width="0.23">HEL</text>
<text transform="translate(163,350.82) rotate(-90)" x="0" y="0" font-size="8.4" textLength="22.57" lengthAdjust="spacingAndGlyphs" fill="#111" stroke="#111" stroke-width="0.23">MigR1</text>
<text x="169.21" y="336.8" font-size="7.7" textLength="30.83" lengthAdjust="spacingAndGlyphs" fill="#111" stroke="#111" stroke-width="0.21">Jak2 V617F</text>
<text x="215.96" y="338" font-size="8.4" textLength="15.58" lengthAdjust="spacingAndGlyphs" fill="#111" stroke="#111" stroke-width="0.23">HEL</text>
<text x="245.7" y="336.6" font-size="6.9" textLength="13.92" lengthAdjust="spacingAndGlyphs" fill="#111" stroke="#111" stroke-width="0.19">NBM</text>
<text x="245.84" y="345.4" font-size="6.9" textLength="14.03" lengthAdjust="spacingAndGlyphs" fill="#111" stroke="#111" stroke-width="0.19">(n=3)</text>
<text x="273.4" y="336.6" font-size="6.9" textLength="8.36" lengthAdjust="spacingAndGlyphs" fill="#111" stroke="#111" stroke-width="0.19">PV</text>
<text x="270.2" y="345.4" font-size="6.9" textLength="15.61" lengthAdjust="spacingAndGlyphs" fill="#111" stroke="#111" stroke-width="0.19">(n=3)</text>
<path d="M155.9 350.8Q155.9 353.6 158.0 353.6L195.0 353.6Q197.1 353.6 197.1 350.8" stroke="#111" stroke-width="1" fill="none"/>
<path d="M245.9 351.4Q245.9 354.4 248.0 354.4L293.3 354.4Q295.4 354.4 295.4 351.4" stroke="#111" stroke-width="1" fill="none"/>
<text x="165.75" y="363.2" font-size="8.6" textLength="21.81" lengthAdjust="spacingAndGlyphs" fill="#111" stroke="#111" stroke-width="0.24">Ba/F3</text>
<text x="256.47" y="363.8" font-size="8.8" textLength="20.87" lengthAdjust="spacingAndGlyphs" fill="#111" stroke="#111" stroke-width="0.24">CD34+</text>
<rect x="80.4" y="256.3" width="6.2" height="6.6" fill="#fff" stroke="#222" stroke-width="1"/>
<rect x="82" y="257.9" width="3" height="3.4" fill="url(#h6)"/>
<rect x="97.4" y="256.3" width="6.1" height="6.6" fill="#111" stroke="#111" stroke-width="1"/>
<rect x="76.4" y="264.3" width="33.4" height="9.3" fill="#f2f2f2" stroke="#111" stroke-width="1.1"/>
<rect x="76.4" y="276.4" width="33.4" height="8.8" fill="#f2f2f2" stroke="#111" stroke-width="1.1"/>
<rect x="76.4" y="289.6" width="33.4" height="8.6" fill="#f2f2f2" stroke="#111" stroke-width="1.1"/>
<rect x="81.1" y="266.4" width="11.2" height="2" rx="1" fill="#666" filter="url(#bl)"/>
<rect x="83" y="268.9" width="8" height="1.4" rx="0.7" fill="#aaa" filter="url(#bl)"/>
<rect x="94.3" y="266.9" width="11.9" height="1.8" rx="0.9" fill="#c4c4c4" filter="url(#bl)"/>
<rect x="79.1" y="279" width="13.2" height="2.8" rx="1.4" fill="#2a2a2a" filter="url(#bl)"/>
<rect x="95.6" y="279.5" width="9.9" height="1.4" rx="0.7" fill="#666" filter="url(#bl)"/>
<rect x="79.8" y="293.2" width="13.2" height="1.6" rx="0.8" fill="#555" filter="url(#bl)"/>
<rect x="95" y="292.1" width="11.2" height="1.6" rx="0.8" fill="#555" filter="url(#bl)"/>
<text x="64.25" y="266.5" font-size="4.4" textLength="7.83" lengthAdjust="spacingAndGlyphs" fill="#111" stroke="#111" stroke-width="0.18">150</text>
<polygon points="75.2,264.9 72.6,263.6 72.6,266.2" fill="#111"/>
<text x="64.25" y="274" font-size="4.4" textLength="7.83" lengthAdjust="spacingAndGlyphs" fill="#111" stroke="#111" stroke-width="0.18">100</text>
<polygon points="75.2,272.4 72.6,271.1 72.6,273.7" fill="#111"/>
<text x="67.12" y="282.4" font-size="4.4" textLength="5.02" lengthAdjust="spacingAndGlyphs" fill="#111" stroke="#111" stroke-width="0.18">37</text>
<polygon points="75.2,280.8 72.6,279.5 72.6,282.1" fill="#111"/>
<text x="67.09" y="295.8" font-size="4.4" textLength="4.69" lengthAdjust="spacingAndGlyphs" fill="#111" stroke="#111" stroke-width="0.18">25</text>
<polygon points="75.2,294.2 72.6,292.9 72.6,295.5" fill="#111"/>
<line x1="113.8" y1="268.4" x2="118.8" y2="268.4" stroke="#111" stroke-width="1.1"/>
<polygon points="110.6,268.4 114.6,266 114.6,270.8" fill="#111"/>
<line x1="113.8" y1="280.6" x2="118.8" y2="280.6" stroke="#111" stroke-width="1.1"/>
<polygon points="110.6,280.6 114.6,278.2 114.6,283" fill="#111"/>
<line x1="113.8" y1="297.8" x2="118.8" y2="297.8" stroke="#111" stroke-width="1.1"/>
<polygon points="110.6,297.8 114.6,295.4 114.6,300.2" fill="#111"/>
<text x="120.01" y="271.2" font-size="7.2" textLength="12.71" lengthAdjust="spacingAndGlyphs" fill="#111" stroke="#111" stroke-width="0.2">Jak2</text>
<text x="119.68" y="283.8" font-size="7.2" textLength="33.65" lengthAdjust="spacingAndGlyphs" fill="#111" stroke="#111" stroke-width="0.2">PP2Ac (Y307)</text>
<text x="119.77" y="297.4" font-size="7.2" textLength="14.68" lengthAdjust="spacingAndGlyphs" fill="#111" stroke="#111" stroke-width="0.2">Grb2</text>
<text x="67.04" y="311.6" font-size="8.6" textLength="51.36" lengthAdjust="spacingAndGlyphs" fill="#111" stroke="#111" stroke-width="0.1">PV (CD34+)</text>
<rect x="206.6" y="180.2" width="101" height="47.2" fill="#fff" stroke="#c4c4c4" stroke-width="0.9"/>
<text x="226.8" y="184.4" font-size="3.8" textLength="12.58" lengthAdjust="spacingAndGlyphs" font-weight="bold" fill="#333" stroke="#333" stroke-width="0.3">Ba/F3</text>
<text x="221.83" y="188.5" font-size="3.8" textLength="24.52" lengthAdjust="spacingAndGlyphs" font-weight="bold" fill="#333" stroke="#333" stroke-width="0.3">Jak2 V617F</text>
<text x="262.62" y="187.9" font-size="3.8" textLength="8.5" lengthAdjust="spacingAndGlyphs" font-weight="bold" fill="#333" stroke="#333" stroke-width="0.3">HEL</text>
<rect x="219.5" y="190.8" width="58.7" height="3.4" fill="#dcdcdc"/>
<line x1="225.6" y1="192.5" x2="229" y2="192.5" stroke="#111" stroke-width="0.9"/>
<line x1="227.3" y1="190.8" x2="227.3" y2="194.2" stroke="#111" stroke-width="0.9"/>
<line x1="257.8" y1="192.5" x2="261.2" y2="192.5" stroke="#111" stroke-width="0.9"/>
<line x1="259.5" y1="190.8" x2="259.5" y2="194.2" stroke="#111" stroke-width="0.9"/>
<line x1="237.1" y1="197.5" x2="240.5" y2="197.5" stroke="#111" stroke-width="0.9"/>
<line x1="238.8" y1="195.8" x2="238.8" y2="199.2" stroke="#111" stroke-width="0.9"/>
<line x1="270.5" y1="197.5" x2="273.9" y2="197.5" stroke="#111" stroke-width="0.9"/>
<line x1="272.2" y1="195.8" x2="272.2" y2="199.2" stroke="#111" stroke-width="0.9"/>
<text x="278.37" y="194.6" font-size="4.7" textLength="19.87" lengthAdjust="spacingAndGlyphs" fill="#111" stroke="#111" stroke-width="0.18">Parental</text>
<text x="278.65" y="199.6" font-size="4.7" textLength="27.26" lengthAdjust="spacingAndGlyphs" fill="#111" stroke="#111" stroke-width="0.18">shRNA SET</text>
<text x="209.16" y="201" font-size="3.6" textLength="6.45" lengthAdjust="spacingAndGlyphs" fill="#111" stroke="#111" stroke-width="0.18">kDa</text>
<text x="211.23" y="206.5" font-size="3.6" textLength="4.8" lengthAdjust="spacingAndGlyphs" fill="#111" stroke="#111" stroke-width="0.18">37</text>
<polygon points="220,205.4 216.1,204.1 216.1,206.7" fill="#111"/>
<text x="210.66" y="218" font-size="3.6" textLength="5.34" lengthAdjust="spacingAndGlyphs" fill="#111" stroke="#111" stroke-width="0.18">25</text>
<polygon points="220,216.6 216.1,215.3 216.1,217.9" fill="#111"/>
<rect x="220.8" y="201.2" width="27.4" height="8.6" fill="#f2f2f2" stroke="#111" stroke-width="1.1"/>
<rect x="220.8" y="211.1" width="27.4" height="8.6" fill="#f2f2f2" stroke="#111" stroke-width="1.1"/>
<rect x="250.4" y="200.8" width="28.4" height="9" fill="#f2f2f2" stroke="#111" stroke-width="1.1"/>
<rect x="250.4" y="211.1" width="28.4" height="9.1" fill="#f2f2f2" stroke="#111" stroke-width="1.1"/>
<rect x="226" y="203.6" width="7.2" height="3.8" rx="1.9" fill="#4a4a4a" filter="url(#bl)"/>
<rect x="235.3" y="204.3" width="7.1" height="2" rx="1" fill="#aaa" filter="url(#bl)"/>
<rect x="254.5" y="203.8" width="10.1" height="3.6" rx="1.8" fill="#2a2a2a" filter="url(#bl)"/>
<rect x="267.6" y="204.9" width="7.1" height="1.4" rx="0.7" fill="#aaa" filter="url(#bl)"/>
<rect x="223.8" y="215.7" width="8.9" height="1.4" rx="0.7" fill="#555" filter="url(#bl)"/>
<rect x="235.3" y="215.5" width="11.1" height="1.4" rx="0.7" fill="#666" filter="url(#bl)"/>
<rect x="253.5" y="214.8" width="7.1" height="1.6" rx="0.8" fill="#444" filter="url(#bl)"/>
<rect x="265.6" y="215.1" width="9.1" height="1.4" rx="0.7" fill="#555" filter="url(#bl)"/>
<text x="280.89" y="207.9" font-size="5.2" textLength="9.21" lengthAdjust="spacingAndGlyphs" fill="#111" stroke="#111" stroke-width="0.18">SET</text>
<text x="280.15" y="217.4" font-size="5.2" textLength="11.12" lengthAdjust="spacingAndGlyphs" fill="#111" stroke="#111" stroke-width="0.18">Grb2</text>
<text x="226.22" y="225.8" font-size="5.6" textLength="3.58" lengthAdjust="spacingAndGlyphs" fill="#111" stroke="#111" stroke-width="0.18">1</text>
<text x="237.59" y="225.8" font-size="5.6" textLength="3.42" lengthAdjust="spacingAndGlyphs" fill="#111" stroke="#111" stroke-width="0.18">2</text>
<text x="257.16" y="225.8" font-size="5.6" textLength="3.28" lengthAdjust="spacingAndGlyphs" fill="#111" stroke="#111" stroke-width="0.18">3</text>
<text x="269.89" y="225.8" font-size="5.6" textLength="3.08" lengthAdjust="spacingAndGlyphs" fill="#111" stroke="#111" stroke-width="0.18">4</text>
<text x="344.05" y="189" font-size="11" textLength="8.34" lengthAdjust="spacingAndGlyphs" font-weight="bold" fill="#111" stroke="#111" stroke-width="0.31">D</text>
<rect x="360.2" y="190.2" width="129.4" height="11.4" fill="#fff" stroke="#8a8a8a" stroke-width="0.9"/>
<rect x="362.4" y="192.4" width="7" height="7.8" fill="#fff" stroke="#222" stroke-width="1.2"/>
<text x="371.17" y="198.6" font-size="6.8" textLength="18.46" lengthAdjust="spacingAndGlyphs" fill="#111" stroke="#111" stroke-width="0.32">vector</text>
<rect x="394.4" y="193.2" width="6" height="7.4" fill="#d2d2d2" stroke="#333" stroke-width="1"/>
<text x="400.68" y="199.4" font-size="6.8" textLength="38.44" lengthAdjust="spacingAndGlyphs" fill="#111" stroke="#111" stroke-width="0.3">SET shRNA</text>
<rect x="445.4" y="193" width="5.6" height="6.4" fill="#111" stroke="#111" stroke-width="1"/>
<text x="452.15" y="199.3" font-size="6.6" textLength="33.02" lengthAdjust="spacingAndGlyphs" fill="#111" stroke="#111" stroke-width="0.3">HA-PP2Ac</text>
<line x1="372.3" y1="233.2" x2="372.3" y2="324.4" stroke="#111" stroke-width="1.1"/>
<text x="367.35" y="326.3" font-size="5.6" textLength="3.48" lengthAdjust="spacingAndGlyphs" fill="#111" stroke="#111" stroke-width="0.18">0</text>
<text x="364.2" y="311.16" font-size="5.6" textLength="6.62" lengthAdjust="spacingAndGlyphs" fill="#111" stroke="#111" stroke-width="0.18">20</text>
<text x="364.38" y="296.02" font-size="5.6" textLength="6.43" lengthAdjust="spacingAndGlyphs" fill="#111" stroke="#111" stroke-width="0.18">40</text>
<text x="364.2" y="280.88" font-size="5.6" textLength="6.62" lengthAdjust="spacingAndGlyphs" fill="#111" stroke="#111" stroke-width="0.18">60</text>
<text x="364.23" y="265.74" font-size="5.6" textLength="6.59" lengthAdjust="spacingAndGlyphs" fill="#111" stroke="#111" stroke-width="0.18">80</text>
<text x="361.17" y="250.6" font-size="5.6" textLength="9.66" lengthAdjust="spacingAndGlyphs" fill="#111" stroke="#111" stroke-width="0.18">100</text>
<text x="361.17" y="235.46" font-size="5.6" textLength="9.66" lengthAdjust="spacingAndGlyphs" fill="#111" stroke="#111" stroke-width="0.18">120</text>
<line x1="371.4" y1="233.7" x2="373.4" y2="233.7" stroke="#111" stroke-width="1"/>
<text transform="translate(358.9,295.42) rotate(-90)" x="0" y="0" font-size="8" textLength="32.96" lengthAdjust="spacingAndGlyphs" fill="#111" stroke="#111" stroke-width="0.22">CFC (%)</text>
<line x1="371.8" y1="324.4" x2="438.9" y2="324.4" stroke="#111" stroke-width="1.1"/>
<rect x="378.2" y="247.3" width="7.8" height="77.1" fill="#fff"/>
<rect x="378.2" y="247.3" width="7.8" height="77.1" fill="none" stroke="#222" stroke-width="1.1"/>
<line x1="382.1" y1="239.3" x2="382.1" y2="255.7" stroke="#111" stroke-width="1"/>
<line x1="380.8" y1="239.3" x2="383.4" y2="239.3" stroke="#111" stroke-width="1"/>
<line x1="380.8" y1="255.7" x2="383.4" y2="255.7" stroke="#111" stroke-width="1"/>
<rect x="387.6" y="309.2" width="7.1" height="15.2" fill="#d2d2d2"/>
<rect x="387.6" y="309.2" width="7.1" height="15.2" fill="none" stroke="#222" stroke-width="1.1"/>
<line x1="391.1" y1="308.6" x2="391.1" y2="309.8" stroke="#111" stroke-width="1"/>
<line x1="389.9" y1="308.6" x2="392.3" y2="308.6" stroke="#111" stroke-width="1"/>
<line x1="389.9" y1="309.8" x2="392.3" y2="309.8" stroke="#111" stroke-width="1"/>
<polygon points="391.1,301.3 391.81,302.73 393.38,302.96 392.24,304.07 392.51,305.64 391.1,304.9 389.69,305.64 389.96,304.07 388.82,302.96 390.39,302.73" fill="#111"/>
<rect x="404.7" y="248.2" width="9.9" height="76.2" fill="#fff"/>
<rect x="404.7" y="248.2" width="9.9" height="76.2" fill="none" stroke="#222" stroke-width="1.1"/>
<line x1="409.6" y1="239.4" x2="409.6" y2="256.4" stroke="#111" stroke-width="1"/>
<line x1="408.3" y1="239.4" x2="410.9" y2="239.4" stroke="#111" stroke-width="1"/>
<line x1="408.3" y1="256.4" x2="410.9" y2="256.4" stroke="#111" stroke-width="1"/>
<rect x="416.5" y="319.3" width="7.3" height="5.1" fill="#fff"/>
<rect x="416.5" y="319.3" width="7.3" height="5.1" fill="none" stroke="#222" stroke-width="1.1"/>
<line x1="420.2" y1="318.6" x2="420.2" y2="320" stroke="#111" stroke-width="1"/>
<line x1="419" y1="318.6" x2="421.4" y2="318.6" stroke="#111" stroke-width="1"/>
<line x1="419" y1="320" x2="421.4" y2="320" stroke="#111" stroke-width="1"/>
<polygon points="420.3,311.1 421.01,312.53 422.58,312.76 421.44,313.87 421.71,315.44 420.3,314.7 418.89,315.44 419.16,313.87 418.02,312.76 419.59,312.53" fill="#111"/>
<rect x="426" y="317.5" width="7.6" height="6.9" fill="#111"/>
<rect x="426" y="317.5" width="7.6" height="6.9" fill="none" stroke="#222" stroke-width="1.1"/>
<line x1="429.8" y1="314.4" x2="429.8" y2="318" stroke="#111" stroke-width="1"/>
<line x1="428.6" y1="314.4" x2="431" y2="314.4" stroke="#111" stroke-width="1"/>
<line x1="428.6" y1="318" x2="431" y2="318" stroke="#111" stroke-width="1"/>
<polygon points="429.8,307.6 430.51,309.03 432.08,309.26 430.94,310.37 431.21,311.94 429.8,311.2 428.39,311.94 428.66,310.37 427.52,309.26 429.09,309.03" fill="#111"/>
<text x="376.64" y="338.7" font-size="7.6" textLength="17.22" lengthAdjust="spacingAndGlyphs" font-weight="bold" fill="#111" stroke="#111" stroke-width="0.21">HEL</text>
<text x="409.39" y="340.1" font-size="7" textLength="17.09" lengthAdjust="spacingAndGlyphs" fill="#111" stroke="#111" stroke-width="0.19">Ba/F3</text>
<text x="403.01" y="349" font-size="7.4" textLength="33.25" lengthAdjust="spacingAndGlyphs" fill="#111" stroke="#111" stroke-width="0.21">Jak2 V617F</text></svg></body></html>
